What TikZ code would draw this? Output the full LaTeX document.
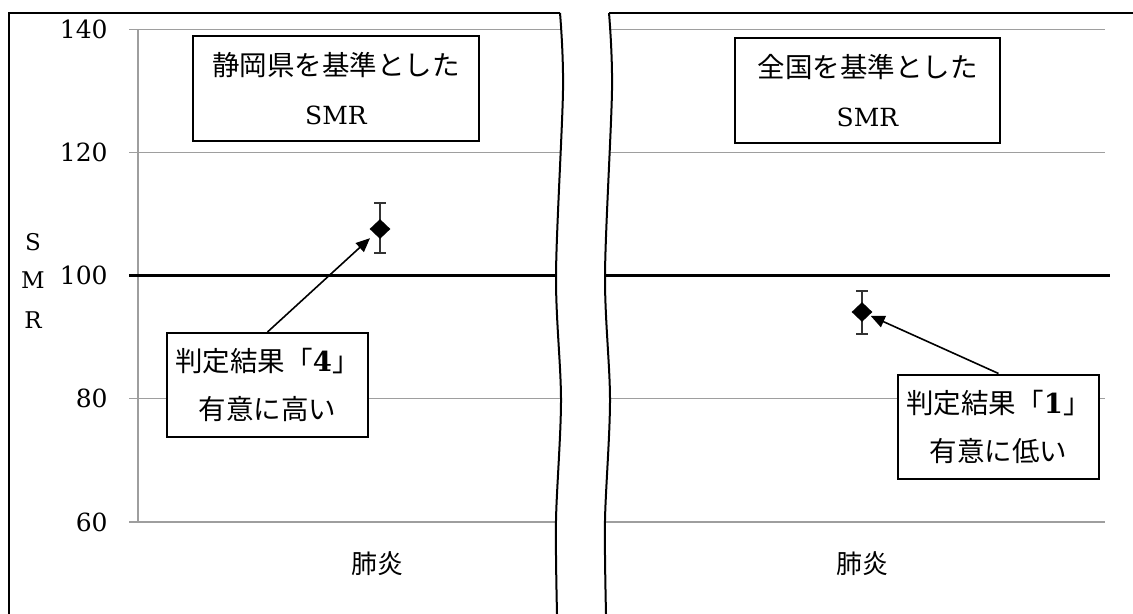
\documentclass[tikz,border=0pt]{standalone}
\usepackage{fontspec}
\setmainfont{DejaVu Serif}
\newfontfamily\jfont{Noto Sans CJK JP}
\usetikzlibrary{shapes.geometric}
\usetikzlibrary{arrows.meta}
\tikzset{
	line_grid/.style = {
		draw=black!38,
		line width=0.6pt
	},
	line_base/.style = {
		draw=black,
		line width=1.7pt
	},
	line_frame/.style = {
		draw=black,
		line width=1pt
	},
	line_err/.style = {
		draw=black!80,
		line width=0.6pt
	},
	box_text/.style = {
		draw=black,
		fill=white,
		line width=1pt,
		align=center,
		inner sep=0pt,
		font=\fontsize{13.75}{24.5}\selectfont
	},
	box_title/.style = {
		box_text,
		minimum height=52.5pt
	},
	box_judge/.style = {
		box_text,
		minimum width=100.5pt,
		minimum height=52pt,
		font=\fontsize{13.75}{24}\selectfont
	},
	node_pt/.style = {
		diamond,
		fill=black,
		inner sep=0pt,
		minimum width=10.5pt,
		minimum height=10pt
	},
	node_tick/.style = {
		anchor=east,
		inner sep=0pt,
		font=\fontsize{12.5}{12.5}\selectfont
	},
	node_axis/.style = {
		inner sep=0pt,
		font=\fontsize{11.5}{11.5}\selectfont
	},
	node_cat/.style = {
		inner sep=0pt,
		font=\jfont\fontsize{13}{13}\selectfont
	},
}
\begin{document}
\begin{tikzpicture}[x=0.5pt, y=-0.5pt, >={Triangle[length=7pt,width=6pt]}]
\useasboundingbox (0,0) rectangle (1133,614);
\foreach \v/\y in {60/522, 80/398.8, 120/152.4, 140/29.2} {
	\draw[line_grid] (129,\y) -- (1105,\y);
	\node[node_tick] (tick\v) at (108,\y) {\v};
}
\node[node_tick] (tick100) at (108,275.6) {100};
\draw[line_grid] (138,29.2) -- (138,522);
\draw[line_base] (129,275.6) -- (1110,275.6);
\fill[white] plot[smooth] coordinates {(560,13) (563,90) (556,275) (561,400) (556,520) (557,614)}
	-- plot[smooth] coordinates {(606,614) (605,520) (610,400) (605,275) (612,90) (609,13)} -- cycle;
\draw[line_frame] plot[smooth] coordinates {(560,13) (563,90) (556,275) (561,400) (556,520) (557,614)};
\draw[line_frame] plot[smooth] coordinates {(609,13) (612,90) (605,275) (610,400) (605,520) (606,614)};
\draw[line_frame] (560,13) -- (9,13) -- (9,614);
\draw[line_frame] (609,13) -- (1133,13);
\node[node_axis] (axisS) at (33,242) {S};
\node[node_axis] (axisM) at (33,280) {M};
\node[node_axis] (axisR) at (33,320) {R};
\draw[line_err] (374,203) -- (386,203) (380,203) -- (380,253) (374,253) -- (386,253);
\draw[line_err] (856,291) -- (868,291) (862,291) -- (862,334) (856,334) -- (868,334);
\node[node_pt] (ptPref) at (380,229) {};
\node[node_pt] (ptNat) at (862,312) {};
\node[box_title, minimum width=143pt] (titlePref) at (336,88.5) {{\jfont 静岡県を基準とした}\\{\fontsize{12.5}{24.5}\selectfont SMR}};
\node[box_title, minimum width=132.5pt] (titleNat) at (867.5,90.5) {{\jfont 全国を基準とした}\\{\fontsize{12.5}{24.5}\selectfont SMR}};
\node[box_judge] (judgePref) at (267.5,385) {{\jfont 判定結果「}\textbf{4}{\jfont 」}\\{\jfont 有意に高い}};
\node[box_judge] (judgeNat) at (998.5,426.5) {{\jfont 判定結果「}\textbf{1}{\jfont 」}\\{\jfont 有意に低い}};
\draw[->, line width=0.8pt, shorten >=3pt] (judgePref.north) -- (ptPref);
\draw[->, line width=0.8pt, shorten >=0.7pt] (judgeNat.north) -- (ptNat);
\node[node_cat] (catPref) at (377,564) {肺炎};
\node[node_cat] (catNat) at (862,564) {肺炎};
\end{tikzpicture}
\end{document}
